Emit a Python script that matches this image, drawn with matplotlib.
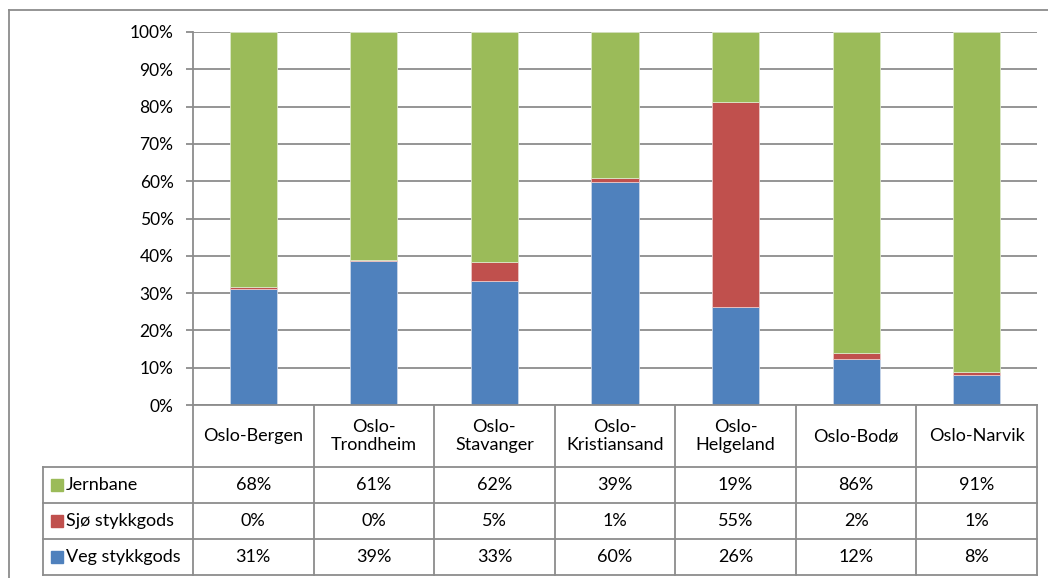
import matplotlib.pyplot as plt
from matplotlib.lines import Line2D
from matplotlib.patches import Rectangle
import matplotlib.transforms as mtransforms

plt.rcParams['font.family'] = ['Lato', 'DejaVu Sans']

# data (andel i prosent)
strekninger = ["Oslo-Bergen", "Oslo-\nTrondheim", "Oslo-\nStavanger", "Oslo-\nKristiansand",
               "Oslo-\nHelgeland", "Oslo-Bodø", "Oslo-Narvik"]
veg = [31.2, 38.6, 33.3, 59.7, 26.3, 12.3, 8.0]
sjo = [0.4, 0.4, 5.1, 1.2, 55.0, 1.6, 0.8]
jernbane = [68.4, 61.0, 61.6, 39.1, 18.7, 86.1, 91.2]
serier = ["Jernbane", "Sjø stykkgods", "Veg stykkgods"]

c_veg = "#4F81BD"
c_sjo = "#C0504D"
c_jern = "#9BBB59"
grå = "#8C8C8C"
fs = 13

W, H = 1048, 578
fig = plt.figure(figsize=(W / 100, H / 100), dpi=100)

def fx(p):
    return p / W

def fy(p):
    return 1 - p / H

ax = fig.add_axes([fx(193), fy(405), fx(1037) - fx(193), fy(32) - fy(405)])
x = list(range(len(strekninger)))
bw = 0.39
ax.bar(x, veg, bw, color=c_veg, edgecolor="#C9D6EA", linewidth=0.6, zorder=3)
bunn = [v for v in veg]
ax.bar(x, sjo, bw, bottom=bunn, color=c_sjo, edgecolor="#EBC8C7", linewidth=0.6, zorder=3)
bunn = [v + s for v, s in zip(veg, sjo)]
ax.bar(x, jernbane, bw, bottom=bunn, color=c_jern, edgecolor="#DCE8C8", linewidth=0.6, zorder=3)

ax.set_xlim(-0.5, len(x) - 0.5)
ax.set_ylim(0, 100)
ax.set_yticks(range(0, 101, 10))
ax.set_yticklabels([f"{t}%" for t in range(0, 101, 10)], fontsize=12.5)
ax.set_xticks([])
ax.yaxis.grid(True, color=grå, linewidth=1.3, zorder=0)
ax.tick_params(axis='y', length=5, color=grå, width=1.3, pad=9)
for s in ["top", "right", "bottom"]:
    ax.spines[s].set_visible(False)
ax.spines["left"].set_color(grå)
ax.spines["left"].set_linewidth(1.3)

# datatabell under diagrammet
tr = mtransforms.blended_transform_factory(ax.transData, fig.transFigure)
lw = 1.3
rader = [467, 503, 539, 575]
# horisontale linjer
fig.add_artist(Line2D([fx(193), fx(1037)], [fy(405), fy(405)], color=grå, lw=lw))
for r in rader:
    fig.add_artist(Line2D([fx(43), fx(1037)], [fy(r), fy(r)], color=grå, lw=lw))
# vertikale linjer
fig.add_artist(Line2D([fx(43), fx(43)], [fy(467), fy(575)], color=grå, lw=lw))
for i in range(len(x) + 1):
    fig.add_artist(Line2D([i - 0.5, i - 0.5], [fy(405), fy(575)], color=grå, lw=lw, transform=tr))

for i, navn in enumerate(strekninger):
    fig.text(i, fy(436), navn, transform=tr, ha="center", va="center", fontsize=fs, linespacing=1.15)

verdier = [jernbane, sjo, veg]
farger = [c_jern, c_sjo, c_veg]
for j, (navn, vals, col) in enumerate(zip(serier, verdier, farger)):
    yc = (rader[j] + rader[j + 1]) / 2
    fig.add_artist(Rectangle((fx(51), fy(yc + 6)), fx(12), fy(0) - fy(12),
                             transform=fig.transFigure, color=col))
    fig.text(fx(66), fy(yc), navn, ha="left", va="center", fontsize=fs)
    for i, v in enumerate(vals):
        fig.text(i, fy(yc), f"{v:.0f}%", transform=tr, ha="center", va="center", fontsize=fs)

# ytre ramme
fig.add_artist(Line2D([fx(9), 1], [fy(10), fy(10)], color=grå, lw=lw))
fig.add_artist(Line2D([fx(9), fx(9)], [fy(10), 0], color=grå, lw=lw))

fig.savefig("out.png", dpi=100)
